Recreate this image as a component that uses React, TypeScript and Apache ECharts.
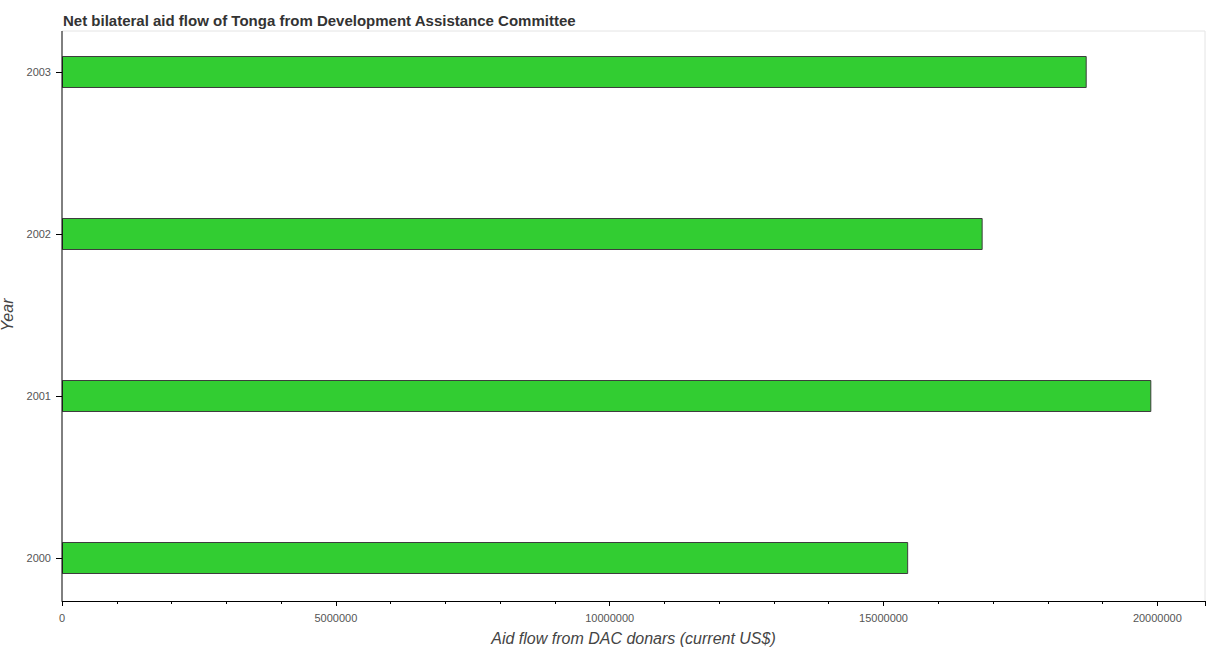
import React, { useEffect, useRef } from "react";
import * as echarts from "echarts";

const years = ["2000", "2001", "2002", "2003"];
const aidFlow = [15450000, 19890000, 16810000, 18710000];
const titleText = "Net bilateral aid flow of Tonga from Development Assistance Committee";
const xAxisTitle = "Aid flow from DAC donars (current US$)";
const yAxisTitle = "Year";

export default function App() {
  const ref = useRef<HTMLDivElement>(null);
  useEffect(() => {
    document.body.style.margin = "0";
    const chart = echarts.init(ref.current!, null, { renderer: "svg" });
    const font = "Liberation Sans, Arial, sans-serif";
    chart.setOption({
      animation: false,
      backgroundColor: "#ffffff",
      textStyle: { fontFamily: font },
      title: {
        text: titleText,
        left: 58,
        top: 8,
        textStyle: { fontSize: 15, fontWeight: "bold", color: "#333333", fontFamily: font },
      },
      grid: { left: 62, right: 5, top: 72, bottom: 92, containLabel: false, outerBoundsMode: "none" },
      xAxis: {
        type: "value",
        min: 0,
        max: 20870000,
        interval: 5000000,
        offset: 43,
        name: xAxisTitle,
        nameLocation: "middle",
        nameGap: 29,
        nameTextStyle: { fontSize: 16, fontStyle: "italic", color: "#444444", fontFamily: font },
        axisLine: { show: true, lineStyle: { color: "#000000", width: 1 } },
        axisTick: { show: true, length: 5, lineStyle: { color: "#000000", width: 1 } },
        minorTick: { show: true, splitNumber: 5, length: 3, lineStyle: { color: "#000000", width: 1 } },
        splitLine: { show: false },
        minorSplitLine: { show: false },
        axisLabel: {
          fontSize: 11,
          color: "#555555",
          margin: 11,
          fontFamily: font,
          formatter: (v: number) => String(v),
        },
      },
      yAxis: {
        type: "category",
        data: years,
        boundaryGap: false,
        name: yAxisTitle,
        nameLocation: "middle",
        nameGap: 42,
        nameTextStyle: { fontSize: 16, fontStyle: "italic", color: "#444444", fontFamily: font },
        axisLine: { show: false },
        axisTick: { show: true, length: 6, lineStyle: { color: "#000000", width: 1 } },
        splitLine: { show: false },
        axisLabel: { fontSize: 11, color: "#555555", margin: 11, fontFamily: font },
      },
      graphic: [
        {
          type: "polyline",
          silent: true,
          shape: { points: [[62, 31], [1205, 31], [1205, 601]] },
          style: { stroke: "#e4e4e4", lineWidth: 1, fill: null },
          z: 0,
        },
        {
          type: "line",
          silent: true,
          shape: { x1: 62, y1: 31, x2: 62, y2: 601 },
          style: { stroke: "#000000", lineWidth: 1 },
          z: 10,
        },
      ],
      series: [
        {
          type: "bar",
          data: aidFlow,
          barWidth: 32,
          itemStyle: { color: "#32cd32", borderColor: "#3d3d3d", borderWidth: 1 },
        },
      ],
    });
    return () => chart.dispose();
  }, []);
  return <div ref={ref} style={{ width: 1210, height: 650 }} />;
}
